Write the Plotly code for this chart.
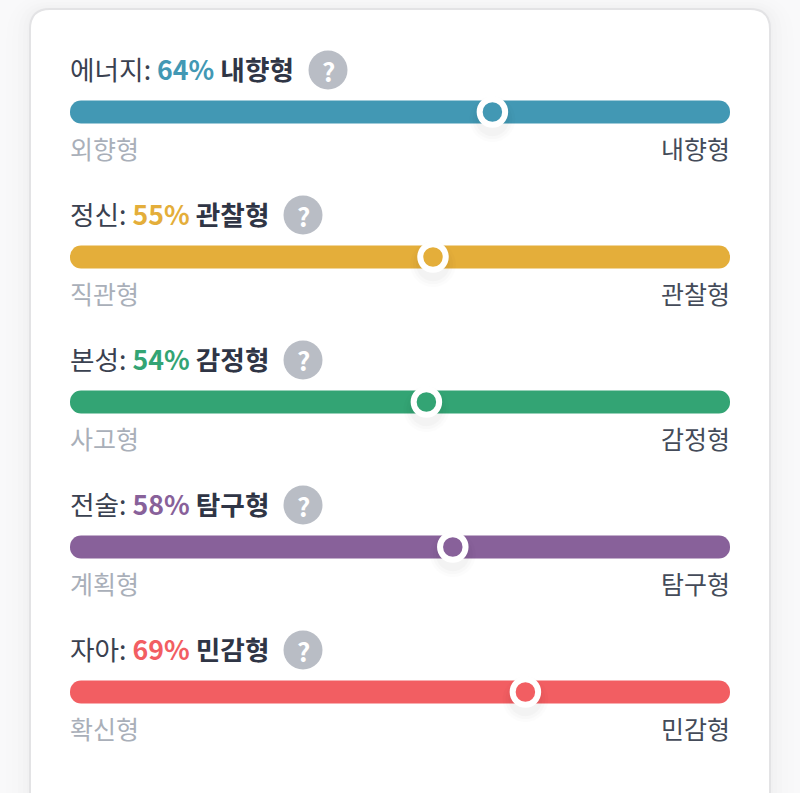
import plotly.graph_objects as go

dimensions = ["에너지", "정신", "본성", "전술", "자아"]
percents = [64, 55, 54, 58, 69]
results = ["내향형", "관찰형", "감정형", "탐구형", "민감형"]
left_labels = ["외향형", "직관형", "사고형", "계획형", "확신형"]
right_labels = ["내향형", "관찰형", "감정형", "탐구형", "민감형"]
colors = ["#4298B4", "#E4AE3A", "#33A474", "#88619A", "#F25E62"]

W, H = 800, 793
X0, X1 = 70, 730
FIRST, STEP = 112, 145
FONT = "Noto Sans CJK KR"
idx = list(range(len(dimensions)))
help_x = [328, 303, 303, 303, 303]

fig = go.Figure()
fig.add_trace(go.Bar(y=idx, x=[100] * 5, base=[0] * 5, orientation="h", width=23 / STEP,
                     marker=dict(color=colors, line=dict(width=0)), hoverinfo="skip"))
for grow, alpha in ((46, .012), (40, .015), (34, .02)):
    fig.add_trace(go.Scatter(x=percents, y=[i + 0.05 for i in idx], mode="markers", hoverinfo="skip",
                             marker=dict(size=grow, color=f"rgba(0,0,0,{alpha})", line=dict(width=0))))
fig.add_trace(go.Scatter(x=percents, y=idx, mode="markers",
                         marker=dict(size=25.5, color=colors, line=dict(color="white", width=6))))

def px(x): return x / W
def py(y): return 1 - y / H

def card(l, t, r, rad):
    b = H + 40
    return (f"M {px(l)} {py(b)} L {px(l)} {py(t + rad)} Q {px(l)} {py(t)} {px(l + rad)} {py(t)} "
            f"L {px(r - rad)} {py(t)} Q {px(r)} {py(t)} {px(r)} {py(t + rad)} L {px(r)} {py(b)} Z")

shapes = []
for g, a in ((24, .004), (18, .005), (12, .006), (7, .007), (3, .008)):
    shapes.append(dict(type="path", xref="paper", yref="paper", layer="below", path=card(30 - g, 9 - g * .6, 770 + g, 20 + g),
                       fillcolor=f"rgba(0,0,0,{a})", line=dict(width=0)))
shapes.append(dict(type="path", xref="paper", yref="paper", layer="below", path=card(30, 9, 770, 20),
                   fillcolor="#FFFFFF", line=dict(color="#E3E3E5", width=2)))

annotations = []
for i in idx:
    head = (f"<span style='color:#3A4150'>{dimensions[i]}: </span>"
            f"<b><span style='color:{colors[i]}'>{percents[i]}%</span> "
            f"<span style='color:#2F3545'>{results[i]}</span></b>")
    annotations.append(dict(x=0, y=i, xref="x", yref="y", xanchor="left", yanchor="middle", xshift=-2, yshift=44, text=head,
                            showarrow=False, font=dict(family=FONT, size=26.7, color="#3A4150")))
    annotations.append(dict(x=0, y=i, xref="x", yref="y", xanchor="left", yanchor="middle", xshift=-2, yshift=-36,
                            text=left_labels[i], showarrow=False, font=dict(family=FONT, size=25, color="#A9AFB9")))
    annotations.append(dict(x=100, y=i, xref="x", yref="y", xanchor="right", yanchor="middle", xshift=2, yshift=-36,
                            text=right_labels[i], showarrow=False, font=dict(family=FONT, size=25, color="#444B59")))
    cy = FIRST + STEP * i - 42
    shapes.append(dict(type="circle", xref="paper", yref="paper", layer="above",
                       x0=px(help_x[i] - 19.5), x1=px(help_x[i] + 19.5), y0=py(cy + 19.5), y1=py(cy - 19.5),
                       fillcolor="#B9BDC5", line=dict(width=0)))
    annotations.append(dict(x=px(help_x[i]), y=py(cy), xref="paper", yref="paper", xanchor="center", yanchor="middle",
                            text="<b>?</b>", showarrow=False, font=dict(family=FONT, size=26, color="#FFFFFF")))

fig.update_layout(
    width=W, height=H, margin=dict(l=0, r=0, t=0, b=0), showlegend=False, barmode="overlay",
    paper_bgcolor="#F9F9FA", plot_bgcolor="rgba(0,0,0,0)", barcornerradius=12,
    xaxis=dict(domain=[X0 / W, X1 / W], range=[0, 100], visible=False, fixedrange=True),
    yaxis=dict(domain=[0, 1], range=[(H - FIRST) / STEP, -FIRST / STEP], visible=False, fixedrange=True),
    shapes=shapes, annotations=annotations, font=dict(family=FONT),
)
fig.write_html("out.html", config=dict(displayModeBar=False),
               post_script="document.body.style.margin='0';document.documentElement.style.overflow='hidden';")
